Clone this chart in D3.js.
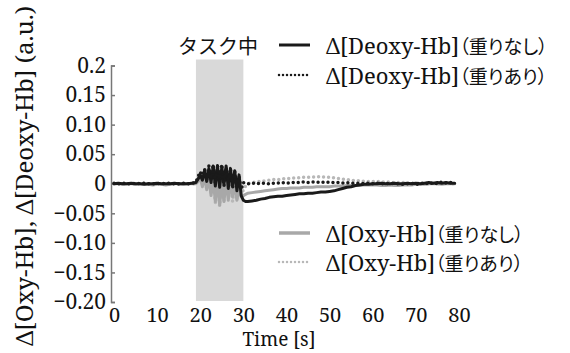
<!DOCTYPE html>
<html>
<head>
<meta charset="utf-8">
<script src="https://cdn.jsdelivr.net/npm/d3@7"></script>
<style>
  body { margin: 0; background: #fff; }
</style>
</head>
<body>
<svg id="chart" width="570" height="353"></svg>
<script>
// time points (s): 1 s steps outside the task, 0.5 s during it
var time = [0,1,2,3,4,5,6,7,8,9,10,11,12,13,14,15,16,17,18,
  19,19.5,20,20.5,21,21.5,22,22.5,23,23.5,24,24.5,25,25.5,26,26.5,27,27.5,28,28.5,29,29.5,30,30.5,31,
  32,33,34,35,36,37,38,39,40,41,42,43,44,45,46,47,48,49,50,51,52,53,54,55,56,57,58,59,
  60,61,62,63,64,65,66,67,68,69,70,71,72,73,74,75,76,77,78,79];

var deoxyNo = [0,0.001,0,0,0.001,0,0,-0.001,0,0,0.001,0,0,0,0.001,0,0,0,0.001,
  0.002,0.008,0.015,0.006,0.022,0.004,0.026,0.002,0.03,-0.004,0.031,-0.006,0.028,0.0,0.03,-0.008,0.026,-0.004,0.022,-0.012,0.015,-0.02,-0.028,-0.03,-0.03,
  -0.029,-0.028,-0.026,-0.025,-0.023,-0.022,-0.021,-0.021,-0.02,-0.019,-0.018,-0.017,-0.017,-0.016,-0.016,-0.015,-0.014,-0.014,-0.013,-0.012,-0.01,-0.008,-0.006,-0.005,-0.003,-0.002,-0.001,-0.001,
  0,0,0.001,0,0,0.001,0,0,0.001,0,0.001,0,0.001,0.002,0.001,0.002,0.001,0.002,0.001,0.001];

var deoxyW = [0.001,0,0.001,0,0,0.001,0,0.001,0,0,0,0.001,0,0.001,0,0,0.001,0,0,
  0.003,0.012,0.02,0.01,0.025,0.006,0.03,0.008,0.032,0.0,0.03,0.004,0.033,-0.004,0.028,0.002,0.026,-0.008,0.02,-0.004,0.012,-0.01,0.002,0.001,0.0,
  0.001,0.0,0.001,0.001,0.0,0.001,0.001,0.002,0.001,0.002,0.002,0.002,0.003,0.002,0.003,0.003,0.002,0.003,0.002,
  0.002,0.002,0.001,0.002,0.001,0.001,0.001,0.0,0.001,0.0,0.001,0.0,0.0,0.001,0.0,0.0,-0.001,0.0,0.001,-0.001,
  0.0,0.002,-0.001,0.002,0.0,0.003,0.001,0.002,0.001];

var oxyNo = [0,0,-0.001,0,0,-0.001,0,0,-0.001,-0.002,-0.001,-0.001,-0.002,-0.001,0,0,-0.001,0,0,
  0.0,0.004,0.01,-0.005,0.012,-0.01,0.01,-0.02,0.008,-0.03,0.006,-0.036,0.004,-0.03,0.006,-0.028,0.004,-0.022,0.0,-0.028,-0.005,-0.022,-0.02,-0.018,-0.016,
  -0.015,-0.014,-0.013,-0.012,-0.011,-0.01,-0.009,-0.008,-0.008,-0.007,-0.007,-0.007,-0.006,-0.006,-0.006,-0.005,-0.005,-0.005,-0.005,
  -0.004,-0.004,-0.004,-0.003,-0.003,-0.003,-0.002,-0.002,-0.002,-0.002,-0.002,-0.003,-0.003,-0.002,-0.003,-0.003,-0.002,-0.002,-0.002,-0.001,
  -0.001,-0.001,0,0,0,-0.001,0,0,0];

var oxyW = [0,0,0,-0.001,0,0,0,0.001,0,0,-0.001,0,0,0,0,-0.001,0,0,0,
  0.0,0.005,0.008,0.0,0.01,-0.008,0.008,-0.015,0.006,-0.032,0.004,-0.038,0.002,-0.03,0.004,-0.02,0.002,-0.03,-0.004,-0.026,-0.006,-0.02,-0.01,-0.004,0.0,
  0.002,0.003,0.004,0.005,0.006,0.007,0.007,0.008,0.009,0.009,0.01,0.01,0.011,0.011,0.011,0.012,0.012,0.011,0.011,
  0.01,0.009,0.008,0.007,0.006,0.005,0.005,0.004,0.004,0.004,0.004,0.003,0.003,0.003,0.002,0.002,0.002,0.001,0.001,0.001,
  0.001,0,0,0.001,0,0,0.001,0,0];

var taskSpan = [19, 30];
var yTicks = [0.2, 0.15, 0.1, 0.05, 0, -0.05, -0.1, -0.15, -0.2];
var yTickLabels = ["0.2", "0.15", "0.10", "0.05", "0", "\u22120.05", "\u22120.10", "\u22120.15", "\u22120.20"];
var xTicks = [0, 10, 20, 30, 40, 50, 60, 70, 80];

var SERIF = '"Noto Serif", "Liberation Serif", serif';
var JP = '"Noto Sans CJK JP", "Noto Sans CJK SC", sans-serif';

var svg = d3.select("#chart");

var x = d3.scaleLinear().domain([0, 80]).range([114, 459]);
var y = d3.scaleLinear().domain([-0.2, 0.2]).range([302, 65.5]);

// task shading
svg.append("rect")
  .attr("x", x(taskSpan[0]))
  .attr("y", y(0.2) - 6)
  .attr("width", x(taskSpan[1]) - x(taskSpan[0]))
  .attr("height", y(-0.2) - y(0.2) + 5)
  .attr("fill", "#d9d9d9");

svg.append("text")
  .attr("x", 218).attr("y", 45)
  .attr("text-anchor", "middle")
  .attr("dominant-baseline", "central")
  .style("font-family", JP)
  .style("font-size", "20px")
  .style("fill", "#111")
  .text("タスク中");

// y axis, ticks pointing inwards
var yAxis = d3.axisLeft(y)
  .tickValues(yTicks)
  .tickSizeInner(-4)
  .tickSizeOuter(-4)
  .tickPadding(5)
  .tickFormat(function(d, i) { return yTickLabels[i]; });

var gy = svg.append("g")
  .attr("transform", "translate(111,0)")
  .call(yAxis);
gy.attr("font-family", null).attr("font-size", null);
gy.select(".domain").attr("stroke", "#777").attr("stroke-width", 1.5);
gy.selectAll(".tick line").attr("stroke", "#777").attr("stroke-width", 1.5);
gy.selectAll("text")
  .style("font-family", SERIF)
  .style("font-size", "21px")
  .attr("fill", "#111");

// x axis: labels only
var xAxis = d3.axisBottom(x).tickValues(xTicks).tickSize(0).tickPadding(6);
var gx = svg.append("g")
  .attr("transform", "translate(0,302)")
  .call(xAxis);
gx.attr("font-family", null).attr("font-size", null);
gx.select(".domain").remove();
gx.selectAll("text")
  .style("font-family", SERIF)
  .style("font-size", "20px")
  .attr("fill", "#111");

svg.append("text")
  .attr("x", 279).attr("y", 346)
  .attr("text-anchor", "middle")
  .style("font-family", SERIF)
  .style("font-size", "19px")
  .style("fill", "#111")
  .text("Time [s]");

svg.append("text")
  .attr("transform", "translate(33,176) rotate(-90)")
  .attr("text-anchor", "middle")
  .style("font-family", SERIF)
  .style("font-size", "24px")
  .style("fill", "#111")
  .text("\u0394[Oxy-Hb], \u0394[Deoxy-Hb] (a.u.)");

// series
var series = [
  { values: oxyW, color: "#b8b8b8", width: 3.5, dash: "0,5" },
  { values: oxyNo, color: "#a8a8a8", width: 3, dash: null },
  { values: deoxyNo, color: "#1a1a1a", width: 3, dash: null },
  { values: deoxyW, color: "#1a1a1a", width: 3.5, dash: "0,5" }
];

var line = d3.line()
  .x(function(d) { return x(d[0]); })
  .y(function(d) { return y(d[1]); });

series.forEach(function(s) {
  var pts = time.map(function(t, i) { return [t, s.values[i]]; });
  svg.append("path")
    .datum(pts)
    .attr("d", line)
    .attr("fill", "none")
    .attr("stroke", s.color)
    .attr("stroke-width", s.width)
    .attr("stroke-linecap", "round")
    .attr("stroke-linejoin", "round")
    .attr("stroke-dasharray", s.dash);
});

// legends
var legendItems = [
  { label: "\u0394[Deoxy-Hb]", jp: "（重りなし）", color: "#1a1a1a", width: 3, dash: null, y: 45 },
  { label: "\u0394[Deoxy-Hb]", jp: "（重りあり）", color: "#1a1a1a", width: 2.5, dash: "0,4", y: 75 },
  { label: "\u0394[Oxy-Hb]", jp: "（重りなし）", color: "#a8a8a8", width: 3.5, dash: null, y: 233 },
  { label: "\u0394[Oxy-Hb]", jp: "（重りあり）", color: "#b8b8b8", width: 2.5, dash: "0,4", y: 262 }
];

var leg = svg.selectAll(".legend")
  .data(legendItems)
  .enter()
  .append("g")
  .attr("class", "legend");

leg.append("line")
  .attr("x1", 279).attr("x2", 310)
  .attr("y1", function(d) { return d.y; })
  .attr("y2", function(d) { return d.y; })
  .attr("stroke", function(d) { return d.color; })
  .attr("stroke-width", function(d) { return d.width; })
  .attr("stroke-linecap", function(d) { return d.dash ? "round" : "butt"; })
  .attr("stroke-dasharray", function(d) { return d.dash; });

var lt = leg.append("text")
  .attr("x", 326)
  .attr("y", function(d) { return d.y; })
  .attr("dominant-baseline", "central")
  .style("fill", "#111");
lt.append("tspan")
  .style("font-family", SERIF)
  .style("font-size", "22px")
  .text(function(d) { return d.label; });
lt.append("tspan")
  .style("font-family", JP)
  .style("font-size", "19px")
  .style("font-feature-settings", '"palt"')
  .text(function(d) { return d.jp; });
</script>
</body>
</html>
